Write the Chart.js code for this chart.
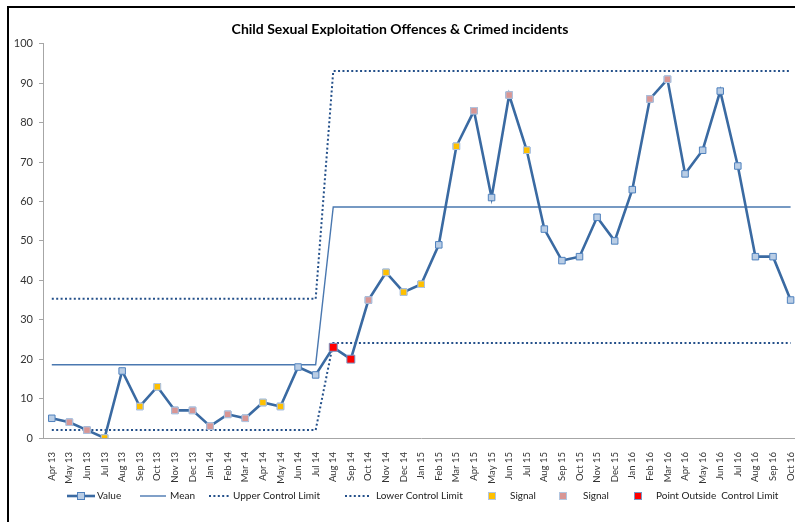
<!DOCTYPE html>
<html>
<head>
<meta charset="utf-8">
<script src="https://cdn.jsdelivr.net/npm/chart.js@4.4.1/dist/chart.umd.min.js"></script>
<style>
  html, body { margin: 0; padding: 0; width: 795px; height: 522px; overflow: hidden; background: #fff; }
  #wrap { position: relative; width: 795px; height: 522px; overflow: hidden; }
  #frame { position: absolute; left: 7px; top: 6px; width: 900px; height: 600px;
           border-left: 2px solid #000; border-top: 2px solid #000; pointer-events: none; }
  canvas { position: absolute; left: 0; top: 0; }
</style>
</head>
<body>
<div id="wrap">
  <canvas id="chart" width="806" height="522"></canvas>
  <div id="frame"></div>
</div>
<script>
const months = [
  'Apr 13', 'May 13', 'Jun 13', 'Jul 13', 'Aug 13', 'Sep 13', 'Oct 13', 'Nov 13', 'Dec 13',
  'Jan 14', 'Feb 14', 'Mar 14', 'Apr 14', 'May 14', 'Jun 14', 'Jul 14', 'Aug 14', 'Sep 14',
  'Oct 14', 'Nov 14', 'Dec 14', 'Jan 15', 'Feb 15', 'Mar 15', 'Apr 15', 'May 15', 'Jun 15',
  'Jul 15', 'Aug 15', 'Sep 15', 'Oct 15', 'Nov 15', 'Dec 15', 'Jan 16', 'Feb 16', 'Mar 16',
  'Apr 16', 'May 16', 'Jun 16', 'Jul 16', 'Aug 16', 'Sep 16', 'Oct 16'
];

const values = [
  5, 4, 2, 0, 17, 8, 13, 7, 7,
  3, 6, 5, 9, 8, 18, 16, 23, 20,
  35, 42, 37, 39, 49, 74, 83, 61, 87,
  73, 53, 45, 46, 56, 50, 63, 86, 91,
  67, 73, 88, 69, 46, 46, 35
];

const meanLine = [
  18.6, 18.6, 18.6, 18.6, 18.6, 18.6, 18.6, 18.6, 18.6,
  18.6, 18.6, 18.6, 18.6, 18.6, 18.6, 18.6, 58.6, 58.6,
  58.6, 58.6, 58.6, 58.6, 58.6, 58.6, 58.6, 58.6, 58.6,
  58.6, 58.6, 58.6, 58.6, 58.6, 58.6, 58.6, 58.6, 58.6,
  58.6, 58.6, 58.6, 58.6, 58.6, 58.6, 58.6
];

const upperLimit = [
  35.3, 35.3, 35.3, 35.3, 35.3, 35.3, 35.3, 35.3, 35.3,
  35.3, 35.3, 35.3, 35.3, 35.3, 35.3, 35.3, 93.1, 93.1,
  93.1, 93.1, 93.1, 93.1, 93.1, 93.1, 93.1, 93.1, 93.1,
  93.1, 93.1, 93.1, 93.1, 93.1, 93.1, 93.1, 93.1, 93.1,
  93.1, 93.1, 93.1, 93.1, 93.1, 93.1, 93.1
];

const lowerLimit = [
  2.0, 2.0, 2.0, 2.0, 2.0, 2.0, 2.0, 2.0, 2.0,
  2.0, 2.0, 2.0, 2.0, 2.0, 2.0, 2.0, 24.1, 24.1,
  24.1, 24.1, 24.1, 24.1, 24.1, 24.1, 24.1, 24.1, 24.1,
  24.1, 24.1, 24.1, 24.1, 24.1, 24.1, 24.1, 24.1, 24.1,
  24.1, 24.1, 24.1, 24.1, 24.1, 24.1, 24.1
];

// run / trend signals (yellow) and shift signals (pink)
const signalRun = [
  null, null, null, 0, null, 8, 13, null, null,
  null, null, null, 9, 8, null, null, null, null,
  null, 42, 37, 39, null, 74, null, null, null,
  73, null, null, null, null, null, null, null, null,
  null, null, null, null, null, null, null
];

const signalShift = [
  null, 4, 2, null, null, null, null, 7, 7,
  3, 6, 5, null, null, null, null, null, null,
  35, null, null, null, null, null, 83, null, 87,
  null, null, null, null, null, null, null, 86, 91,
  null, null, null, null, null, null, null
];

const outsideLimit = [
  null, null, null, null, null, null, null, null, null,
  null, null, null, null, null, null, null, 23, 20,
  null, null, null, null, null, null, null, null, null,
  null, null, null, null, null, null, null, null, null,
  null, null, null, null, null, null, null
];

const FONT = 'Lato';

function markerSet(label, data, fill, edge, radius) {
  return {
    label, data,
    showLine: false,
    pointStyle: 'rect',
    pointRadius: radius,
    pointBackgroundColor: fill,
    pointBorderColor: edge,
    pointBorderWidth: 1,
    order: 0
  };
}

function limitSet(label, data) {
  return {
    label, data,
    borderColor: '#24508a',
    borderWidth: 2,
    borderDash: [2, 2.4],
    pointRadius: 0,
    tension: 0,
    order: 3
  };
}

// legend row under the axis labels
const legendRow = {
  id: 'legendRow',
  afterDraw(chart) {
    const ctx = chart.ctx;
    const sets = chart.data.datasets;
    const y = 496;
    const slots = [
      {i: 0, x: 67, w: 28, tx: 97},
      {i: 1, x: 140, w: 26, tx: 170},
      {i: 2, x: 209, w: 21, tx: 233},
      {i: 3, x: 345, w: 26, tx: 376},
      {i: 4, x: 488, w: 8, tx: 510},
      {i: 5, x: 559, w: 8, tx: 583},
      {i: 6, x: 634, w: 8, tx: 656}
    ];
    ctx.save();
    ctx.font = '10px ' + FONT;
    ctx.textBaseline = 'middle';
    slots.forEach(s => {
      const ds = sets[s.i];
      if (ds.showLine !== false) {
        ctx.strokeStyle = ds.borderColor;
        ctx.lineWidth = ds.borderWidth;
        ctx.setLineDash(ds.borderDash || []);
        ctx.beginPath();
        ctx.moveTo(s.x, y);
        ctx.lineTo(s.x + s.w, y);
        ctx.stroke();
        ctx.setLineDash([]);
      }
      if (ds.pointRadius > 0) {
        const half = 3.5;
        const cx = s.x + s.w / 2;
        ctx.fillStyle = ds.pointBackgroundColor;
        ctx.fillRect(cx - half, y - half, half * 2, half * 2);
        ctx.strokeStyle = ds.pointBorderColor;
        ctx.lineWidth = 1;
        ctx.strokeRect(cx - half, y - half, half * 2, half * 2);
      }
      ctx.fillStyle = '#222';
      ctx.fillText(ds.label, s.tx, y);
    });
    ctx.restore();
  }
};

new Chart(document.getElementById('chart'), {
  type: 'line',
  data: {
    labels: months,
    datasets: [
      {
        label: 'Value',
        data: values,
        borderColor: '#3a6aa2',
        borderWidth: 2.6,
        pointStyle: 'rect',
        pointRadius: 4.6,
        pointBackgroundColor: '#b9cde5',
        pointBorderColor: '#4f81bd',
        pointBorderWidth: 1,
        tension: 0,
        order: 1
      },
      {
        label: 'Mean',
        data: meanLine,
        borderColor: '#4a78b0',
        borderWidth: 1.4,
        pointRadius: 0,
        tension: 0,
        order: 2
      },
      limitSet('Upper Control Limit', upperLimit),
      limitSet('Lower Control Limit', lowerLimit),
      markerSet('Signal', signalRun, '#ffc000', '#b3c6e0', 4.6),
      markerSet('Signal', signalShift, '#d99694', '#b3c6e0', 4.6),
      markerSet('Point Outside  Control Limit', outsideLimit, '#ff0000', '#7a96c4', 5.6)
    ]
  },
  options: {
    responsive: false,
    animation: false,
    devicePixelRatio: 1,
    layout: {padding: {left: 0, right: 6, top: 0, bottom: 0}},
    plugins: {
      legend: {display: false},
      tooltip: {enabled: false},
      title: {
        display: true,
        text: 'Child Sexual Exploitation Offences & Crimed incidents',
        color: '#000',
        font: {family: FONT, size: 14, weight: 'bold'},
        padding: {top: 21, bottom: 6}
      }
    },
    scales: {
      x: {
        offset: true,
        grid: {display: false},
        border: {color: '#a6a6a6'},
        ticks: {
          autoSkip: false,
          minRotation: 90,
          maxRotation: 90,
          padding: 6,
          color: '#333',
          font: {family: FONT, size: 9.5}
        },
        afterFit(scale) {
          scale.height = 84;
          scale.paddingLeft = 0;
          scale.paddingRight = 0;
        }
      },
      y: {
        min: 0,
        max: 100,
        grid: {drawOnChartArea: false, tickLength: 4, color: '#a6a6a6'},
        border: {color: '#a6a6a6'},
        ticks: {
          stepSize: 10,
          padding: 6,
          color: '#333',
          font: {family: FONT, size: 11}
        },
        afterFit(scale) {
          scale.width = 43;
        }
      }
    }
  },
  plugins: [legendRow]
});
</script>
</body>
</html>
